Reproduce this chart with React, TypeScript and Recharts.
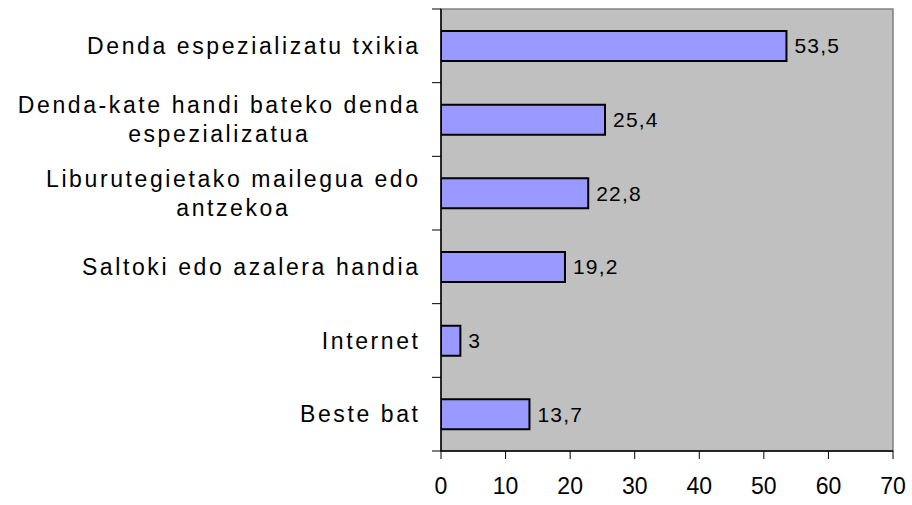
import React from "react";
import { BarChart, Bar, XAxis, YAxis, LabelList, ReferenceArea } from "recharts";

const categories: string[][] = [
  ["Denda espezializatu txikia"],
  ["Denda-kate handi bateko denda", "espezializatua"],
  ["Liburutegietako mailegua edo", "antzekoa"],
  ["Saltoki edo azalera handia"],
  ["Internet"],
  ["Beste bat"],
];
const values: number[] = [53.5, 25.4, 22.8, 19.2, 3, 13.7];
const xTicks: number[] = [0, 10, 20, 30, 40, 50, 60, 70];

const data = categories.map((lines, i) => ({ name: lines.join(" "), lines, value: values[i] }));

const W = 912;
const H = 505;
const Y_AXIS_W = 441;
const M = { top: 9, right: 19, bottom: 0, left: 0 };
const X_AXIS_H = 54;
const FONT = '"Liberation Sans", Arial, sans-serif';
const LABEL_SIZE = 23;
const LABEL_LS = 2.6;
const LINE_H = 29;

const band = (H - M.top - X_AXIS_H) / categories.length;

let ctx: CanvasRenderingContext2D | null = null;
const measure = (s: string) => {
  if (!ctx) ctx = document.createElement("canvas").getContext("2d");
  if (!ctx) return s.length * LABEL_SIZE * 0.5;
  ctx.font = `${LABEL_SIZE}px "Liberation Sans"`;
  return ctx.measureText(s).width + LABEL_LS * s.length;
};

const YTick = (props: any) => {
  const { y, payload, index } = props;
  const row = data.find((d) => d.name === payload.value);
  const lines = row ? row.lines : [String(payload.value)];
  const right = Y_AXIS_W - 23 + LABEL_LS;
  const blockW = Math.max(...lines.map(measure));
  const cx = right - blockW / 2;
  const top = y - ((lines.length - 1) * LINE_H) / 2;
  return (
    <g>
      <line x1={Y_AXIS_W - 9} x2={Y_AXIS_W} y1={y - band / 2} y2={y - band / 2} stroke="#000" />
      {index === categories.length - 1 && (
        <line x1={Y_AXIS_W - 9} x2={Y_AXIS_W} y1={y + band / 2} y2={y + band / 2} stroke="#000" />
      )}
      {lines.map((l, i) => (
        <text
          key={i}
          x={lines.length > 1 ? cx : right}
          y={top + i * LINE_H}
          textAnchor={lines.length > 1 ? "middle" : "end"}
          dominantBaseline="central"
          fontSize={LABEL_SIZE}
          fontFamily={FONT}
          letterSpacing={LABEL_LS}
          fill="#000"
        >
          {l}
        </text>
      ))}
    </g>
  );
};

export default function App() {
  return (
    <div style={{ position: "absolute", left: 0, top: 0, width: W, height: H, background: "#fff" }}>
      <BarChart width={W} height={H} data={data} layout="vertical" margin={M} barSize={30}>
        <ReferenceArea x1={0} x2={70} fill="#C0C0C0" fillOpacity={1} stroke="#808080" strokeWidth={1.5} ifOverflow="extendDomain" />
        <XAxis
          type="number"
          domain={[0, 70]}
          ticks={xTicks}
          height={X_AXIS_H}
          tickSize={8}
          tickMargin={19}
          axisLine={{ stroke: "#000", strokeWidth: 1.5 }}
          tickLine={{ stroke: "#000" }}
          tick={{ fontSize: 23, fill: "#000", fontFamily: FONT }}
          interval={0}
          allowDataOverflow
        />
        <YAxis
          type="category"
          dataKey="name"
          width={Y_AXIS_W}
          axisLine={{ stroke: "#000", strokeWidth: 1.5 }}
          tickLine={false}
          tick={<YTick />}
          interval={0}
        />
        <Bar dataKey="value" fill="#9999FF" stroke="#000" strokeWidth={2} isAnimationActive={false}>
          <LabelList
            dataKey="value"
            position="right"
            offset={8}
            fill="#000"
            fontSize={21}
            fontFamily={FONT}
            letterSpacing={1.2}
            formatter={(v: any) => String(v).replace(".", ",")}
          />
        </Bar>
      </BarChart>
    </div>
  );
}
